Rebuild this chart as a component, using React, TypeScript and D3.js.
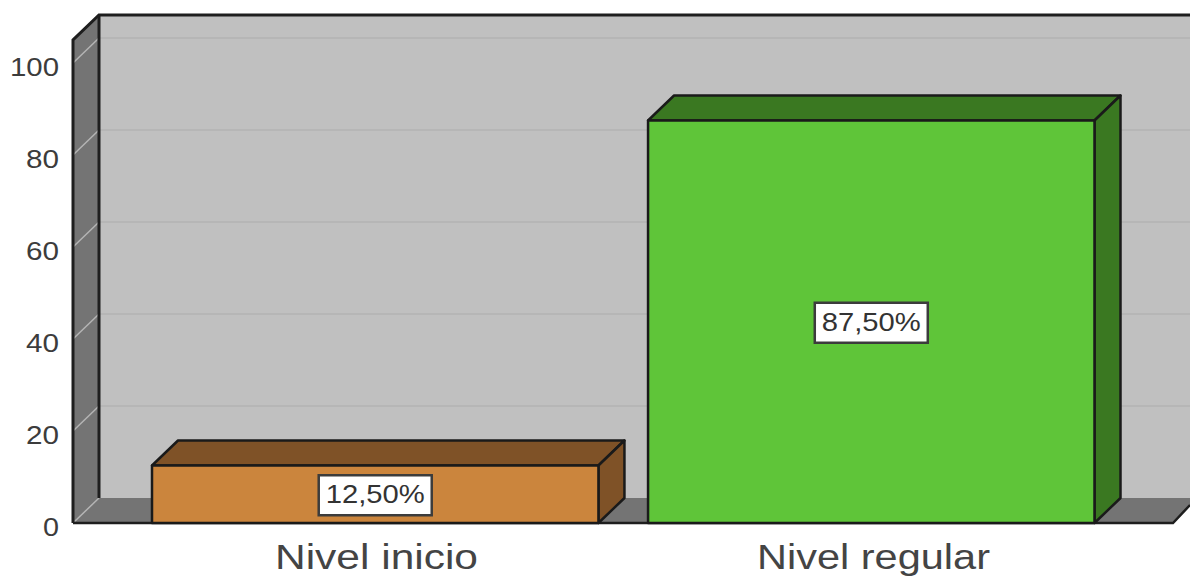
import React from "react";
import * as d3 from "d3";

const categories = ["Nivel inicio", "Nivel regular"];
const percentages = [12.5, 87.5];
const valueLabels = ["12,50%", "87,50%"];
const faceColors = ["#cb853d", "#5fc539"];
const sideColors = ["#7f5227", "#3a7821"];
const axisTicks = [0, 20, 40, 60, 80, 100];

const W = 1190;
const H = 576;
const FONT = "'Liberation Sans', Arial, sans-serif";

// Oblique offset of the chart's rear plane.
const DX = 26;
const DY = -25;

const y = d3.scaleLinear().domain([0, 100]).range([523, 63]);
const xFront = d3.scaleBand<string>().domain(categories).range([152, 1094.5]).paddingInner(0.1).paddingOuter(0);
const yTop = y.invert(40);

const pts = (p: [number, number][]) => p.map((q) => q.join(",")).join(" ");

// Text stretched horizontally to a fixed width.
function Stretched({ x, y: ty, width, size, children, anchor = "middle", fill = "#333" }: any) {
  return (
    <text x={x} y={ty} fontFamily={FONT} fontSize={size} fill={fill} textAnchor={anchor}
      textLength={width} lengthAdjust="spacingAndGlyphs">{children}</text>
  );
}

export default function App() {
  const x0 = 73;
  const xb = x0 + DX;
  const yBase = y(0);
  const yBack = yBase + DY;
  const yRoof = y(yTop) + DY;
  return (
    <svg width={W} height={H} viewBox={`0 0 ${W} ${H}`}
      style={{ position: "absolute", left: 0, top: 0, background: "#fff", display: "block" }}>
      {/* rear wall */}
      <rect x={xb} y={yRoof} width={W - xb} height={yBack - yRoof} fill="#c0c0c0" />
      {/* left wall */}
      <polygon points={pts([[x0, y(yTop)], [xb, yRoof], [xb, yBack], [x0, yBase]])} fill="#747474" />
      {/* floor */}
      <polygon points={pts([[x0, yBase], [xb, yBack], [1190, yBack], [1190, 505], [1173, yBase]])} fill="#747474" />

      {/* gridlines, wrapping from the rear wall on to the left wall */}
      {axisTicks.map((t) => (
        <g key={t} fill="none">
          {t > 0 && <line x1={xb} x2={W} y1={y(t) + DY} y2={y(t) + DY} stroke="#b6b6b6" strokeWidth={2} />}
          <line x1={x0} x2={xb} y1={y(t)} y2={y(t) + DY} stroke="#b4b4b4" strokeWidth={1.5} />
        </g>
      ))}

      {/* frame */}
      <g stroke="#1e1e1e" strokeWidth={3} fill="none">
        <polyline points={pts([[x0, yBase], [x0, y(yTop)], [xb, yRoof], [W, yRoof]])} />
        <line x1={xb} x2={xb} y1={yRoof} y2={yBack} />
        <polyline points={pts([[x0, yBase], [1173, yBase], [1190, 505]])} strokeWidth={2.5} />
      </g>

      {/* bars */}
      {categories.map((c, i) => {
        const l = xFront(c)!;
        const r = l + xFront.bandwidth();
        const t = y(percentages[i]);
        return (
          <g key={c} stroke="#1a1a1a" strokeWidth={2.5} strokeLinejoin="round">
            <polygon points={pts([[l, t], [l + DX, t + DY], [r + DX, t + DY], [r, t]])} fill={sideColors[i]} />
            <polygon points={pts([[r, t], [r + DX, t + DY], [r + DX, yBase + DY], [r, yBase]])} fill={sideColors[i]} />
            <rect x={l} y={t} width={r - l} height={yBase - t} fill={faceColors[i]} />
          </g>
        );
      })}

      {/* value labels */}
      {categories.map((c, i) => {
        const cx = xFront(c)! + xFront.bandwidth() / 2;
        const cy = (y(percentages[i]) + yBase) / 2 + 1;
        return (
          <g key={c}>
            <rect x={cx - 56.5} y={cy - 20} width={113} height={40} fill="#fff" stroke="#3c3c3c" strokeWidth={2.5} />
            <Stretched x={cx} y={cy + 8} width={99} size={25} fill="#333">{valueLabels[i]}</Stretched>
          </g>
        );
      })}

      {/* value axis labels */}
      {axisTicks.map((t) => (
        <Stretched key={t} x={59} y={y(t) + 13} size={25} anchor="end" fill="#3c3c3c"
          width={String(t).length === 1 ? 16 : String(t).length === 2 ? 33 : 49}>{t}</Stretched>
      ))}

      {/* category labels */}
      {categories.map((c, i) => (
        <Stretched key={c} x={[376.5, 873.5][i]} y={569} size={35} width={[203, 233][i]} fill="#444">{c}</Stretched>
      ))}
    </svg>
  );
}
